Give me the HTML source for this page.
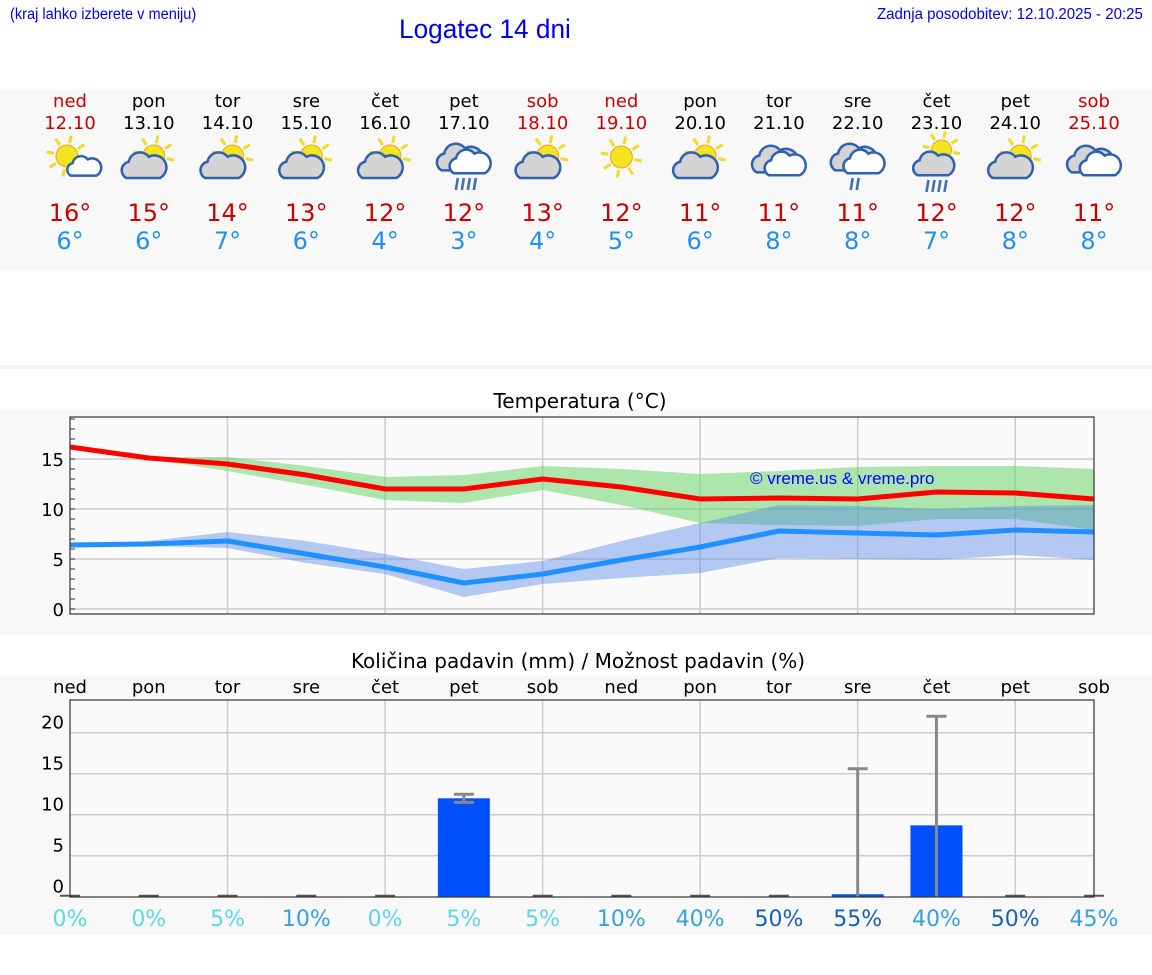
<!DOCTYPE html>
<html><head><meta charset="utf-8"><style>
body{margin:0;width:1152px;height:975px;background:#fff;position:relative;overflow:hidden;font-family:"DejaVu Sans","Liberation Sans",sans-serif;}
.a{position:absolute;white-space:nowrap;}
</style></head><body>
<div class="a" style="left:10px;top:6px;font:15.5px 'Liberation Sans',sans-serif;color:#0000ee;transform:scaleX(0.94);transform-origin:left">(kraj lahko izberete v meniju)</div>
<div class="a" style="left:399px;top:14px;font:27px 'Liberation Sans',sans-serif;color:#0000ee;transform:scaleX(0.97);transform-origin:left">Logatec 14 dni</div>
<div class="a" style="right:9px;top:6px;font:16px 'Liberation Sans',sans-serif;color:#0000ee;transform:scaleX(0.94);transform-origin:right">Zadnja posodobitev: 12.10.2025 - 20:25</div>
<svg id="s" width="1152" height="975" style="position:absolute;left:0;top:0"></svg>
<script>
const days=["ned","pon","tor","sre","čet","pet","sob","ned","pon","tor","sre","čet","pet","sob"];
const dates=["12.10","13.10","14.10","15.10","16.10","17.10","18.10","19.10","20.10","21.10","22.10","23.10","24.10","25.10"];
const weekend=[1,0,0,0,0,0,1,1,0,0,0,0,0,1];
const icons=["sunsmall","suncloud","suncloud","suncloud","suncloud","rain","suncloud","sun","suncloud","clouds","rain2","sunrain","suncloud","clouds"];
const maxT=[16,15,14,13,12,12,13,12,11,11,11,12,12,11];
const minT=[6,6,7,6,4,3,4,5,6,8,8,7,8,8];
const tMax=[16.2,15.1,14.5,13.4,12.0,12.0,13.0,12.2,11.0,11.1,11.0,11.7,11.6,11.0];
const tMaxHi=[16.2,15.2,15.2,14.3,13.2,13.4,14.3,14.0,13.5,13.8,14.2,14.3,14.3,14.0];
const tMaxLo=[16.0,15.0,13.8,12.4,10.9,10.6,11.9,10.4,8.6,8.4,8.3,9.0,9.0,7.9];
const tMin=[6.4,6.5,6.8,5.5,4.2,2.6,3.5,4.9,6.2,7.8,7.6,7.4,7.9,7.7];
const tMinHi=[6.5,6.8,7.7,6.8,5.5,4.0,4.8,6.8,8.6,10.4,10.3,10.0,10.3,10.4];
const tMinLo=[6.3,6.3,6.1,4.6,3.5,1.2,2.5,3.1,3.6,5.1,5.0,4.9,5.4,4.9];
const tTicks=[0,5,10,15];
const rain=[0,0,0,0,0,12.0,0,0,0,0,0.3,8.7,0,0];
const rainHi=[0,0,0,0,0,12.5,0,0,0,0,15.6,22.0,0,0];
const rainLo=[0,0,0,0,0,11.5,0,0,0,0,0,0,0,0];
const pTicks=[0,5,10,15,20];
const prob=[0,0,5,10,0,5,5,10,40,50,55,40,50,45];

const NS="http://www.w3.org/2000/svg",S=document.getElementById('s');
function el(t,a,p){const e=document.createElementNS(NS,t);for(const k in a)e.setAttribute(k,a[k]);(p||S).appendChild(e);return e;}
function tx(x,y,s,a){const e=el('text',Object.assign({x:x,y:y},a));e.textContent=s;return e;}
const X=i=>70+i*(1024/13);
const TY=v=>609-v*10;
const PY=v=>896.7-v*8.2;

el('rect',{x:0,y:90,width:1152,height:180,fill:'#f8f8f8',});
el('rect',{x:0,y:365,width:1152,height:4,fill:'#f4f4f4'});
el('rect',{x:0,y:410,width:1152,height:225,fill:'#f8f8f8',});
el('rect',{x:0,y:675,width:1152,height:260,fill:'#f8f8f8',});

function sun(g,cx,cy,r){for(let k=0;k<8;k++){const a=k*Math.PI/4+0.2;el('line',{x1:cx+Math.cos(a)*r*1.2,y1:cy+Math.sin(a)*r*1.2,x2:cx+Math.cos(a)*r*1.9,y2:cy+Math.sin(a)*r*1.9,stroke:'#f0dc28','stroke-width':3},g);}
el('circle',{cx:cx,cy:cy,r:r,fill:'#f2e41e',stroke:'#f0a030','stroke-width':1},g);}
function cloud(g,cx,cy,s,fill){const p=`M${cx-14*s},${cy+8*s} a${7*s},${7*s} 0 0 1 ${2*s},${-13*s} a${9*s},${9*s} 0 0 1 ${16*s},${-4*s} a${7*s},${7*s} 0 0 1 ${9*s},${17*s} z`;el('path',{d:p,fill:fill,stroke:'#3060b0','stroke-width':2.5},g);}
function drops(g,cx,cy,n){for(let k=0;k<n;k++)el('line',{x1:cx-7+k*6,y1:cy,x2:cx-9+k*6,y2:cy+12,stroke:'#4070b8','stroke-width':2.6},g);}
icons.forEach((t,i)=>{const x=X(i);const g=el('g',{});


if(t=='sunsmall'){sun(g,x-3,156,11);cloud(g,x+14,168,0.95,'#fff');}
else if(t=='suncloud'){sun(g,x+5,156,11);cloud(g,x-5,168,1.25,'#d4d4d4');}
else if(t=='sun'){sun(g,x,157,11);}
else if(t=='clouds'){cloud(g,x-4,162,1.3,'#d4d4d4');cloud(g,x+6,166,1.15,'#fff');}
else if(t=='rain'){cloud(g,x-4,160,1.3,'#d4d4d4');cloud(g,x+6,164,1.15,'#fff');drops(g,x+1,178,4);}
else if(t=='rain2'){cloud(g,x-4,160,1.3,'#d4d4d4');cloud(g,x+6,164,1.15,'#fff');drops(g,x+2,178,2);}
else if(t=='sunrain'){sun(g,x+5,150,10);cloud(g,x-3,166,1.15,'#d4d4d4');drops(g,x-1,180,4);}
});
days.forEach((d,i)=>{const x=X(i),c=weekend[i]?'#cc0000':'#000';
tx(x,107,d,{'font-size':18,fill:c,'text-anchor':'middle',});
tx(x,129,dates[i],{'font-size':18,fill:c,'text-anchor':'middle',});
tx(x,221,maxT[i]+'°',{'font-size':24,fill:'#cc0000','text-anchor':'middle',});
tx(x,249,minT[i]+'°',{'font-size':24,fill:'#2090f0','text-anchor':'middle',});
});

tx(580,408,'Temperatura (°C)',{'font-size':20,'text-anchor':'middle',});
el('rect',{x:70,y:417,width:1024,height:197,fill:'#fafafa'});
for(let i=2;i<14;i+=2)el('line',{x1:X(i),y1:417,x2:X(i),y2:614,stroke:'#ccc','stroke-width':1.5});
tTicks.forEach(v=>{el('line',{x1:70,y1:TY(v),x2:1094,y2:TY(v),stroke:'#ccc','stroke-width':1.5});
tx(64,TY(v)+7,String(v),{'font-size':18,'text-anchor':'end',});});
for(let v=0;v<=19;v++)el('line',{x1:70,y1:TY(v),x2:75,y2:TY(v),stroke:'#333','stroke-width':1});
function band(hi,lo,fill,name){let d='M';hi.forEach((v,i)=>d+=X(i)+','+TY(v)+' L');for(let i=lo.length-1;i>=0;i--)d+=X(i)+','+TY(lo[i])+(i?' L':' Z');
const e=el('path',{d:d,fill:fill});}
band(tMaxHi,tMaxLo,'rgba(110,214,110,0.55)','max-temp-range');
band(tMinHi,tMinLo,'rgba(80,130,230,0.42)','min-temp-range');
function line(arr,col,name){const e=el('polyline',{points:arr.map((v,i)=>X(i)+','+TY(v)).join(' '),fill:'none',stroke:col,'stroke-width':5,'stroke-linejoin':'round'});}
line(tMax,'#ff0000','max-temp-line');line(tMin,'#1e90ff','min-temp-line');
tx(750,484,'© vreme.us & vreme.pro',{'font-size':17,fill:'#0000ff','font-family':'Liberation Sans,sans-serif',});
el('rect',{x:70,y:417,width:1024,height:197,fill:'none',stroke:'#333','stroke-width':1.2});

tx(578,668,'Količina padavin (mm) / Možnost padavin (%)',{'font-size':20,'text-anchor':'middle',});
days.forEach((d,i)=>tx(X(i),693,d,{'font-size':18,'text-anchor':'middle',}));
el('rect',{x:70,y:700,width:1024,height:197,fill:'#fafafa'});
for(let i=2;i<14;i+=2)el('line',{x1:X(i),y1:700,x2:X(i),y2:897,stroke:'#ccc','stroke-width':1.5});
pTicks.forEach(v=>{if(v>0)el('line',{x1:70,y1:PY(v),x2:1094,y2:PY(v),stroke:'#ccc','stroke-width':1.5});
tx(64,PY(v)-4,String(v),{'font-size':18,'text-anchor':'end',});});
rain.forEach((v,i)=>{const x=X(i);
if(v>0){const b=el('rect',{x:x-26,y:PY(v),width:52,height:PY(0)-PY(v),fill:'#0050ff'});}
else el('line',{x1:x-10,y1:PY(0)-1,x2:x+10,y2:PY(0)-1,stroke:'#555','stroke-width':2});
if(rainHi[i]>v){el('line',{x1:x,y1:PY(rainHi[i]),x2:x,y2:PY(rainLo[i]),stroke:'#888','stroke-width':3});
el('line',{x1:x-10,y1:PY(rainHi[i]),x2:x+10,y2:PY(rainHi[i]),stroke:'#888','stroke-width':3});
if(rainLo[i]>0)el('line',{x1:x-10,y1:PY(rainLo[i]),x2:x+10,y2:PY(rainLo[i]),stroke:'#888','stroke-width':3});}
});
el('rect',{x:70,y:700,width:1024,height:197,fill:'none',stroke:'#333','stroke-width':1.2});
prob.forEach((p,i)=>{const c=p<10?'#5cd6e8':(p<50?'#38a0dc':'#1560b8');
tx(X(i),926,p+'%',{'font-size':22,fill:c,'text-anchor':'middle',});});
</script>
</body></html>
